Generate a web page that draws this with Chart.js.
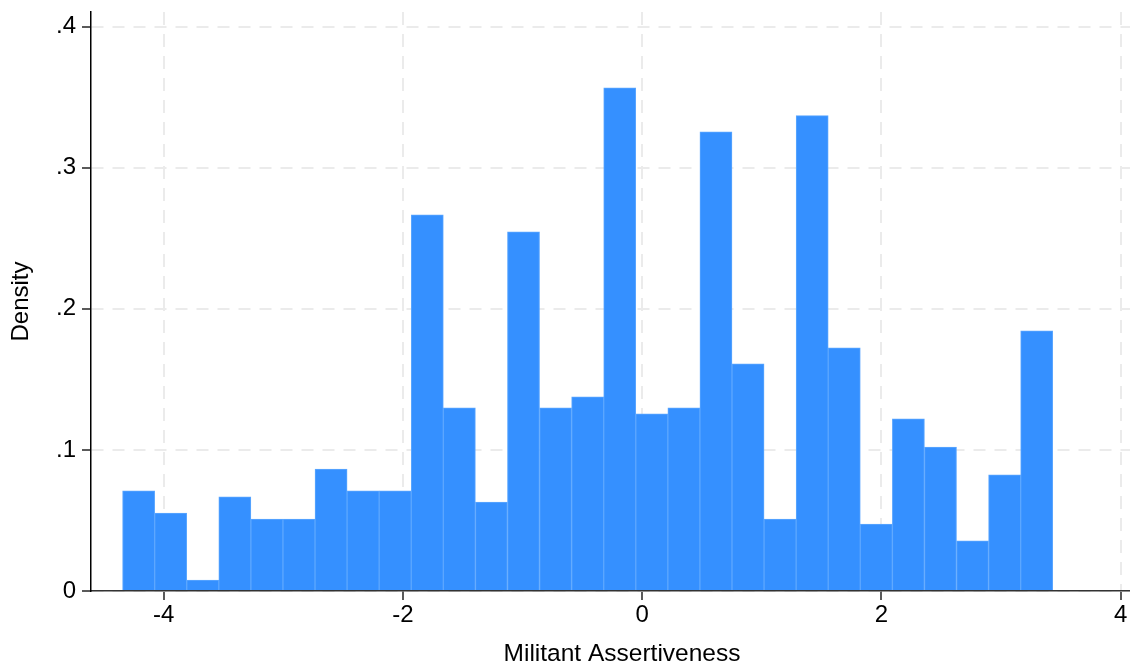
<!DOCTYPE html>
<html>
<head>
<meta charset="utf-8">
<script src="https://cdn.jsdelivr.net/npm/chart.js@4"></script>
<style>
  html, body { margin: 0; padding: 0; background: #ffffff; overflow: hidden; }
  #wrap { width: 1130px; height: 669px; overflow: hidden; }
</style>
</head>
<body>
<!-- canvas um pouco mais largo que a janela: a imagem original é cortada à direita -->
<div id="wrap"><canvas id="histChart" width="1153" height="669"></canvas></div>
<script>
// Histograma: densidade por classe
const binStart = -4.343;
const binWidth = 0.2681;
const density = [0.071, 0.0553, 0.0078, 0.0667, 0.051, 0.051, 0.0865, 0.071, 0.071,
                 0.2667, 0.1298, 0.0631, 0.2546, 0.1298, 0.1376, 0.3567, 0.1255, 0.1298,
                 0.3255, 0.161, 0.051, 0.3369, 0.1723, 0.0475, 0.122, 0.1021, 0.0355,
                 0.0823, 0.1844];
const xTicks = [-4, -2, 0, 2, 4];
const yTicks = [0, 0.1, 0.2, 0.3, 0.4];

const points = density.map((d, i) => ({ x: binStart + binWidth * (i + 0.5), y: d }));

const font = { family: '"Liberation Sans", Arial, sans-serif', size: 24 };
const titleFont = { family: '"Liberation Sans", Arial, sans-serif', size: 24.5 };

// grade tracejada clara, marcas de tick pretas
const gridStyle = {
    offset: false,
    color: '#ebebeb',
    lineWidth: 2,
    tickColor: '#000',
    tickBorderDash: [],
    tickLength: 9,
    tickWidth: 1.3
};

new Chart(document.getElementById('histChart'), {
    type: 'bar',
    data: {
        datasets: [{
            data: points,
            backgroundColor: 'rgb(53, 144, 255)',
            borderColor: 'rgb(92, 167, 255)',
            borderWidth: 1,
            barPercentage: 1,
            categoryPercentage: 1
        }]
    },
    options: {
        responsive: false,
        animation: false,
        layout: { padding: { top: 12, right: 0, left: 0, bottom: 0 } },
        plugins: { legend: { display: false }, tooltip: { enabled: false } },
        scales: {
            x: {
                type: 'linear',
                offset: false,
                min: -4.607,
                max: 4.27,
                afterBuildTicks: s => { s.ticks = xTicks.map(v => ({ value: v })); },
                afterFit: s => { s.height = 78; s.paddingLeft = 0; s.paddingRight = 0; },
                ticks: {
                    color: '#000',
                    font: font,
                    padding: 1,
                    maxRotation: 0,
                    callback: v => String(v)
                },
                grid: gridStyle,
                border: { display: true, color: '#333', width: 1.5, dash: [13, 9] },
                title: {
                    display: true,
                    text: 'Militant Assertiveness',
                    color: '#000',
                    font: titleFont,
                    padding: { top: 0, bottom: 0 }
                }
            },
            y: {
                min: 0,
                max: 0.4104,
                afterBuildTicks: s => { s.ticks = yTicks.map(v => ({ value: v })); },
                afterFit: s => { s.width = 91; s.paddingTop = 0; s.paddingBottom = 0; },
                ticks: {
                    color: '#000',
                    font: font,
                    padding: 6,
                    callback: v => v === 0 ? '0' : String(+v.toFixed(1)).replace(/^0\./, '.')
                },
                grid: gridStyle,
                border: { display: true, color: '#000', width: 1.5, dash: [12, 9] },
                title: {
                    display: true,
                    text: 'Density',
                    color: '#000',
                    font: font,
                    padding: { top: 7, bottom: 0 }
                }
            }
        }
    }
});
</script>
</body>
</html>
